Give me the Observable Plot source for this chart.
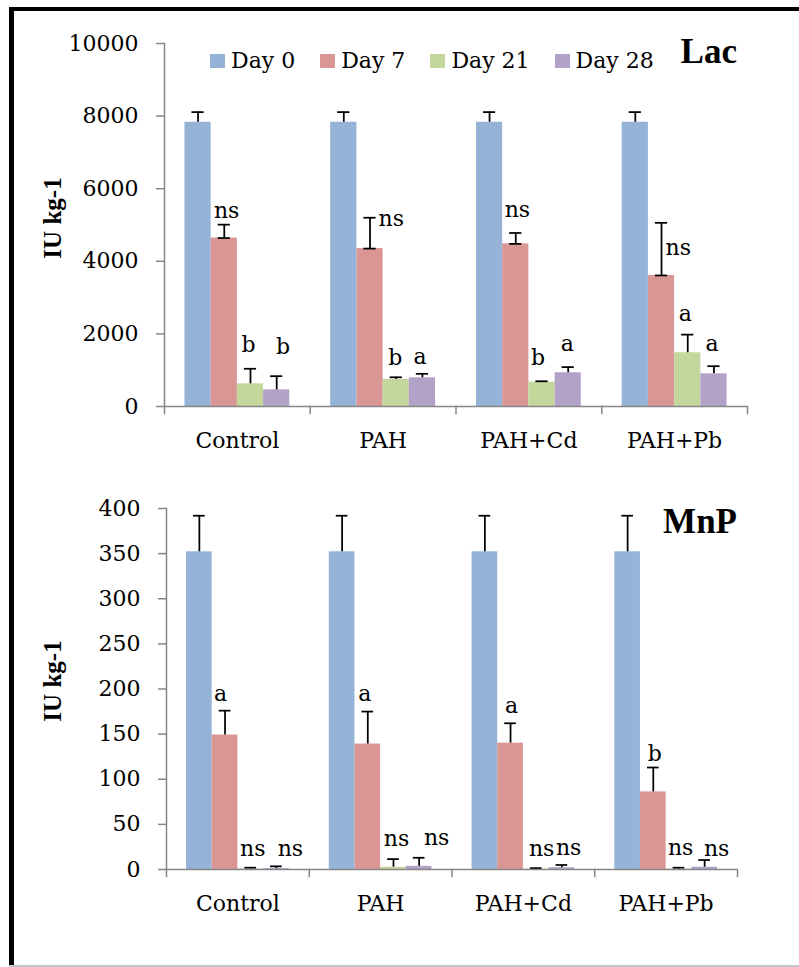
<!DOCTYPE html>
<html>
<head>
<meta charset="utf-8">
<script src="https://cdn.jsdelivr.net/npm/d3@7"></script>
<script src="https://cdn.jsdelivr.net/npm/@observablehq/plot@0.6"></script>
<style>
  body { margin: 0; background: #fff; }
  #figure { position: relative; width: 799px; height: 967px; overflow: hidden; background: #fff; }
  #figure svg { position: absolute; left: 0; }
  .rule { position: absolute; }
  .ytitle {
    position: absolute; font: bold 25px "Liberation Serif"; line-height: 1; white-space: nowrap;
    transform: translate(-50%, -50%) rotate(-90deg);
  }
  .title { position: absolute; font: bold 35px "Liberation Serif"; line-height: 1; white-space: nowrap; }
  .legend { position: absolute; left: 210px; top: 50px; font: 22px "DejaVu Serif"; line-height: 22px; white-space: nowrap; }
  .legend .item { margin-right: 25px; }
  .legend .item:last-child { margin-right: 0; }
  .legend .sw { display: inline-block; width: 15px; height: 14px; margin-right: 6px; vertical-align: baseline; }
</style>
</head>
<body>
<div id="figure">
  <div class="rule" style="left:9px;top:7px;width:790px;height:4px;background:#000"></div>
  <div class="rule" style="left:9px;top:7px;width:5px;height:960px;background:#000"></div>
  <div class="rule" style="left:9px;top:965px;width:790px;height:1.5px;background:#c4c4c4"></div>
  <div class="ytitle" style="left:52px;top:218px">IU kg-1</div>
  <div class="ytitle" style="left:52px;top:681px">IU kg-1</div>
  <div class="title" style="right:62px;top:34px">Lac</div>
  <div class="title" style="right:62px;top:504px">MnP</div>
  <div class="legend" id="legend"></div>
</div>
<script>
const categories = ["Control", "PAH", "PAH+Cd", "PAH+Pb"];
const days = ["Day 0", "Day 7", "Day 21", "Day 28"];
const dayColors = ["#95b3d7", "#d99694", "#c3d69b", "#b3a2c7"];

// Laccase activity, one row per sampling day, columns follow `categories`
const lacMeans = [
  [7830, 7830, 7830, 7830],
  [4640, 4350, 4480, 3610],
  [625, 745, 670, 1480],
  [460, 790, 930, 900]
];
const lacErrors = [
  [280, 280, 280, 280],
  [370, 850, 300, 1450],
  [415, 60, 25, 500],
  [375, 110, 155, 210]
];
const lacLetters = [
  ["", "", "", ""],
  ["ns", "ns", "ns", "ns"],
  ["b", "b", "b", "a"],
  ["b", "a", "a", "a"]
];
const lacTicks = [0, 2000, 4000, 6000, 8000, 10000];

// Manganese peroxidase activity, same layout
const mnpMeans = [
  [352, 352, 352, 352],
  [149, 139, 140, 86],
  [0.5, 2.5, 0.5, 0.5],
  [1, 3.5, 2, 2.5]
];
const mnpErrors = [
  [40, 40, 40, 40],
  [27, 36, 22, 27],
  [1.5, 9, 1, 1.5],
  [2.5, 9.5, 3, 8]
];
const mnpLetters = [
  ["", "", "", ""],
  ["a", "a", "a", "b"],
  ["ns", "ns", "ns", "ns"],
  ["ns", "ns", "ns", "ns"]
];
const mnpTicks = [0, 50, 100, 150, 200, 250, 300, 350, 400];

// Letter placement in pixels: [dx from bar centre, rise of baseline above the error-bar tip, anchor]
const lacLetterPlacement = {
  "Control|Day 7": [2.4, 7], "Control|Day 21": [-2, 16.5], "Control|Day 28": [6.4, 21.7],
  "PAH|Day 7": [8.6, -7.8, "start"], "PAH|Day 21": [-1, 11.8], "PAH|Day 28": [-2.4, 10.3],
  "PAH+Cd|Day 7": [1.6, 15.5], "PAH+Cd|Day 21": [-4, 15.8], "PAH+Cd|Day 28": [-1, 15.9],
  "PAH+Pb|Day 7": [4.1, -32, "start"], "PAH+Pb|Day 21": [-2.4, 14.1], "PAH+Pb|Day 28": [-2, 15.7]
};
const mnpLetterPlacement = {
  "Control|Day 7": [-4.5, 10], "PAH|Day 7": [-3, 11], "PAH+Cd|Day 7": [1, 10], "PAH+Pb|Day 7": [1.4, 6.3],
  "Control|Day 21": [2, 11.5], "Control|Day 28": [14, 10],
  "PAH|Day 21": [3, 13.6], "PAH|Day 28": [17.5, 12.3],
  "PAH+Cd|Day 21": [5.4, 12.6], "PAH+Cd|Day 28": [6.8, 9.5],
  "PAH+Pb|Day 21": [1.7, 12.2], "PAH+Pb|Day 28": [12, 4.5]
};

const axisGray = "#868686";
const barStroke = 1.75;

function buildRows(means, errors, letters) {
  const rows = [];
  days.forEach((day, i) => categories.forEach((category, j) => {
    rows.push({category, day, value: means[i][j], err: errors[i][j], letter: letters[i][j]});
  }));
  return rows;
}

function panel(rows, {ticks, height, marginLeft, marginRight, marginTop, marginBottom, placement, lowerCapDays = []}) {
  const innerHeight = height - marginTop - marginBottom;
  const tip = d => d.value + d.err;
  const letterMarks = rows.filter(d => d.letter).map(d => {
    const [dx, rise, textAnchor = "middle"] = placement[`${d.category}|${d.day}`];
    return Plot.text([d], {
      fx: "category", x: "day", y: tip, text: "letter",
      dx, dy: -rise, textAnchor, lineAnchor: "bottom", fill: "black"
    });
  });
  return Plot.plot({
    width: 799, height, marginLeft, marginRight, marginTop, marginBottom,
    style: {background: "transparent", fontFamily: "DejaVu Serif", fontSize: "22px", color: "black", overflow: "visible"},
    fx: {domain: categories, padding: 0, round: false},
    x: {domain: days, paddingInner: 0, paddingOuter: 0.78, round: false, axis: null},
    y: {domain: [0, d3.max(ticks)]},
    color: {domain: days, range: dayColors},
    marks: [
      Plot.barY(rows, {fx: "category", x: "day", y: "value", fill: "day"}),
      Plot.ruleX(rows, {fx: "category", x: "day", y1: "value", y2: tip, stroke: "black", strokeWidth: barStroke}),
      Plot.tickY(rows, {fx: "category", x: "day", y: tip, stroke: "black", strokeWidth: barStroke, insetLeft: 7, insetRight: 7}),
      Plot.tickY(rows.filter(d => lowerCapDays.includes(d.day)), {
        fx: "category", x: "day", y: "value", stroke: "black", strokeWidth: barStroke, insetLeft: 7, insetRight: 7
      }),
      ...letterMarks,
      // category axis line and the short separators between groups
      Plot.ruleY([0], {stroke: axisGray, strokeWidth: 1.5}),
      Plot.frame({anchor: "left", facetAnchor: "left", stroke: axisGray, strokeWidth: 1.5}),
      Plot.frame({anchor: "left", stroke: axisGray, strokeWidth: 1.5, insetTop: innerHeight, insetBottom: -7}),
      Plot.frame({anchor: "right", facetAnchor: "right", stroke: axisGray, strokeWidth: 1.5, insetTop: innerHeight, insetBottom: -7}),
      Plot.axisY(ticks, {tickSize: 8, tickPadding: 18, stroke: axisGray, strokeWidth: 1.5, tickFormat: d => String(d), label: null}),
      Plot.axisFx({anchor: "bottom", tickSize: 0, tickPadding: 26, label: null})
    ]
  });
}

const figure = document.getElementById("figure");

const lacPlot = panel(buildRows(lacMeans, lacErrors, lacLetters), {
  ticks: lacTicks, height: 460, marginLeft: 164, marginRight: 52, marginTop: 43, marginBottom: 54,
  placement: lacLetterPlacement, lowerCapDays: ["Day 7"]
});
lacPlot.style.top = "0px";
figure.appendChild(lacPlot);

const mnpPlot = panel(buildRows(mnpMeans, mnpErrors, mnpLetters), {
  ticks: mnpTicks, height: 460, marginLeft: 166, marginRight: 62, marginTop: 38, marginBottom: 61,
  placement: mnpLetterPlacement
});
mnpPlot.style.top = "470px";
figure.appendChild(mnpPlot);

// Legend for the sampling days
const legend = document.getElementById("legend");
days.forEach((day, i) => {
  const item = document.createElement("span");
  item.className = "item";
  const sw = document.createElement("span");
  sw.className = "sw";
  sw.style.background = dayColors[i];
  item.appendChild(sw);
  item.appendChild(document.createTextNode(day));
  legend.appendChild(item);
});
</script>
</body>
</html>
